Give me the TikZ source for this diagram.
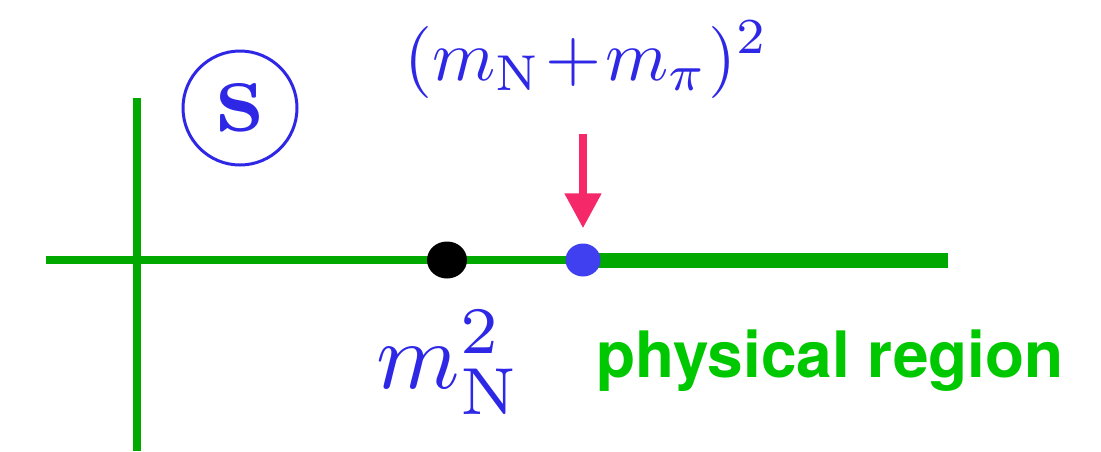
\documentclass[tikz,border=0pt]{standalone}
\usepackage{fontspec}
\newfontfamily\herosfont{TeX Gyre Heros}
\usetikzlibrary{arrows.meta,shapes.geometric}
\definecolor{EjeVerde}{HTML}{00A800}
\definecolor{TextoVerde}{HTML}{00C800}
\definecolor{TextoAzul}{HTML}{2E28E6}
\definecolor{PuntoAzul}{HTML}{4040F0}
\definecolor{FlechaRosa}{HTML}{F5286A}
\tikzset{
  eje/.style      = {draw=EjeVerde, line width=8pt},
  ejegrueso/.style = {draw=EjeVerde, line width=15pt},
  punto/.style    = {ellipse, inner sep=0pt},
  flecha/.style   = {-{Triangle[length=35pt,width=35pt]}, draw=FlechaRosa,
                     fill=FlechaRosa, line width=8pt},
  etiqueta/.style = {text=TextoAzul, inner sep=0pt},
  circulo/.style  = {circle, draw=TextoAzul, line width=3pt, text=TextoAzul,
                     minimum size=114pt, inner sep=0pt},
  region/.style   = {text=TextoVerde, inner sep=0pt,
                     font=\herosfont\bfseries\fontsize{64}{64}\selectfont},
}

\begin{document}
\begin{tikzpicture}[x=1pt,y=-1pt]
  \useasboundingbox (0,0) rectangle (1101,451);
  \coordinate (xini) at (46,260);
  \coordinate (xfin) at (948,260);
  \coordinate (yini) at (137,98);
  \coordinate (yfin) at (137,451);
  \coordinate (cmn) at (447,260);
  \coordinate (cumbral) at (583,260);
  \coordinate (arrtop) at (583,134);
  \draw[eje] (yini) -- (yfin);
  \draw[eje] (xini) -- (cumbral);
  \draw[ejegrueso] (cumbral) -- (xfin);
  \node[punto, fill=black, minimum width=40pt, minimum height=37pt] (mn) at (cmn) {};
  \node[punto, fill=PuntoAzul, minimum width=35pt, minimum height=33pt] (umbral) at (cumbral) {};
  \draw[flecha] (arrtop) -- ([yshift=15pt]umbral.north);
  \node[circulo] (s) at (240,108) {\fontsize{106}{106}\selectfont\bfseries s};
  \node[etiqueta, scale=7.2, anchor=base west] (umbraltxt) at (403,80) {$(m_{\mathrm N}\!+\!m_\pi)^2$};
  \node[etiqueta, scale=9.5, anchor=base west] (mntxt) at (375,388) {$m_{\mathrm N}^2$};
  \node[region, anchor=base west] (fis) at (596,377) {physical region};
\end{tikzpicture}
\end{document}
